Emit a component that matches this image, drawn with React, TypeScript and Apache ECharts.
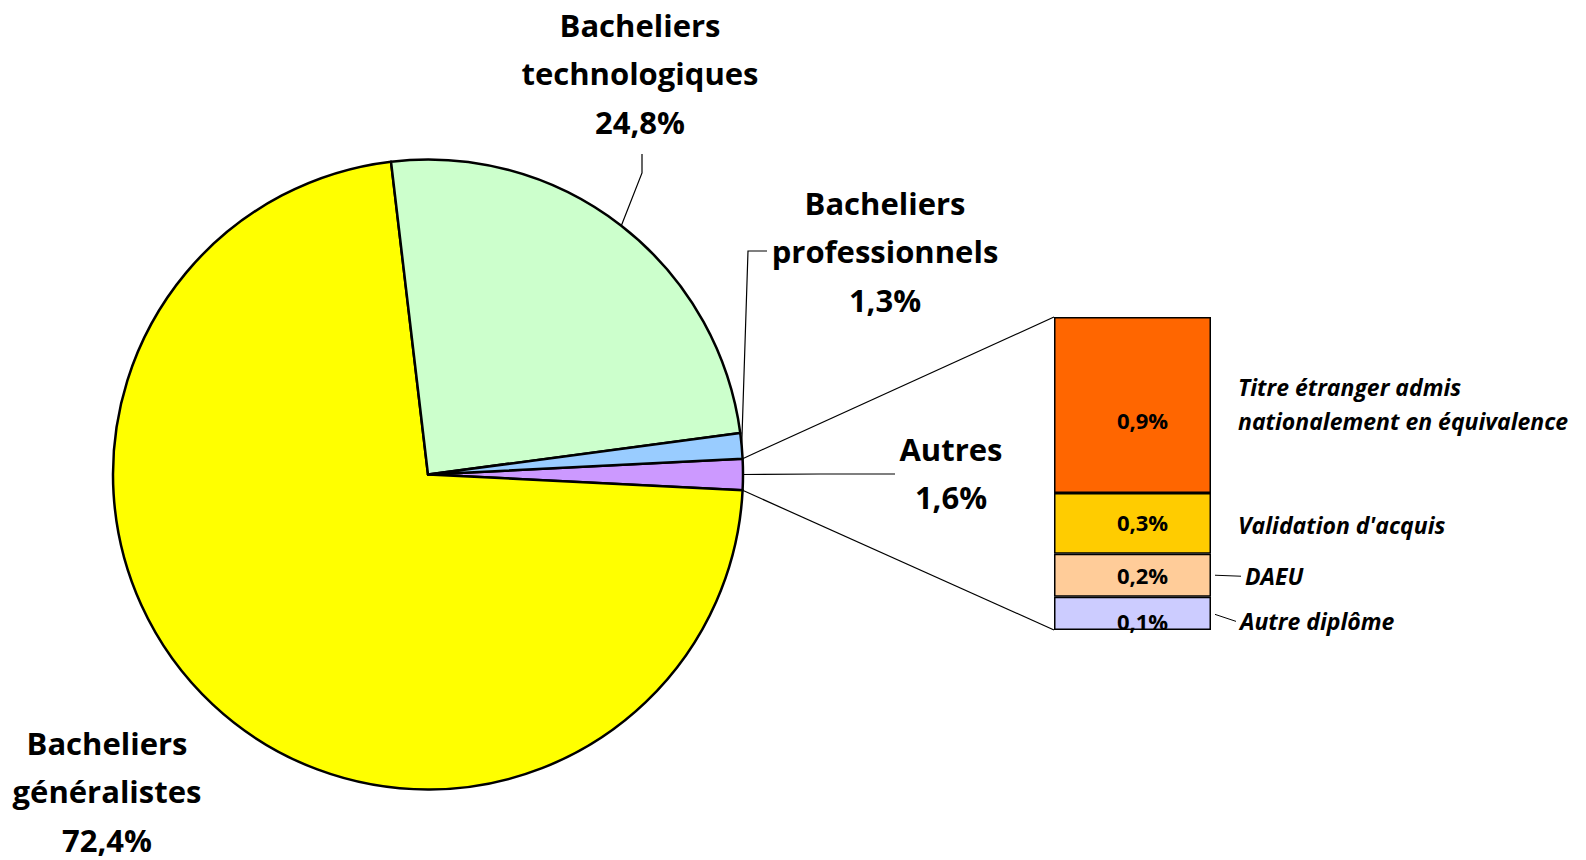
import React, { useEffect, useRef } from "react";
import * as echarts from "echarts";

// ---- data ----
const PIE_NAMES = ["Autres", "Bacheliers généralistes", "Bacheliers technologiques", "Bacheliers professionnels"];
const PIE_LABEL_NAMES = ["Autres", "Bacheliers\ngénéralistes", "Bacheliers\ntechnologiques", "Bacheliers\nprofessionnels"];
const PIE_VALUES = [1.6, 72.4, 24.8, 1.3];
const PIE_COLORS = ["#CC99FF", "#FFFF00", "#CCFFCC", "#99CCFF"];

// stacked bar, bottom to top
const BAR_NAMES = ["Autre diplôme", "DAEU", "Validation d'acquis", "Titre étranger admis\nnationalement en équivalence"];
const BAR_VALUES = [0.17, 0.22, 0.31, 0.9];
const BAR_LABELS = ["0,1%", "0,2%", "0,3%", "0,9%"];
const BAR_COLORS = ["#CCCCFF", "#FFCC99", "#FFCC00", "#FF6600"];

// ---- layout ----
const W = 1586;
const H = 860;
const PIE_CX = 428;
const PIE_CY = 474.5;
const PIE_R = 315;
const GRID = { left: 1054, top: 317, width: 157, height: 313 };
const FONT = "Open Sans";

const fmt = (v: number) => v.toFixed(1).replace(".", ",") + "%";

export default function App() {
  const ref = useRef<HTMLDivElement>(null);

  useEffect(() => {
    document.body.style.margin = "0";
    if (!ref.current) return;
    const chart = echarts.init(ref.current, undefined, { renderer: "svg" });

    const total = PIE_VALUES.reduce((a, b) => a + b, 0);
    const startAngle = (PIE_VALUES[0] / total) * 360 / 2;
    const barTotal = BAR_VALUES.reduce((a, b) => a + b, 0);

    const labelPlace: Record<number, any> = {
      0: { x: 951, y: 473, line: [[820, 474], [895, 474]] },
      1: { x: 107, y: 791, line: null },
      2: { x: 640, y: 73, line: [[642, 173], [642, 154]] },
      3: { x: 885, y: 251, line: [[748, 251], [767, 251]] },
    };

    const barLabelOffsets = [[10, 8], [10, 0], [10, -1], [10, 15]];

    chart.setOption({
      animation: false,
      backgroundColor: "#ffffff",
      grid: { ...GRID, containLabel: false },
      xAxis: { type: "category", data: [""], show: false, boundaryGap: true },
      yAxis: { type: "value", min: 0, max: barTotal, show: false },
      series: [
        {
          type: "pie",
          center: [PIE_CX, PIE_CY],
          radius: PIE_R,
          startAngle,
          clockwise: true,
          avoidLabelOverlap: false,
          data: PIE_VALUES.map((v, i) => ({
            name: PIE_NAMES[i],
            value: v,
            itemStyle: { color: PIE_COLORS[i] },
            labelLine: { show: i !== 1 },
          })),
          itemStyle: { borderColor: "#000", borderWidth: 2.5 },
          label: {
            show: true,
            position: "outside",
            formatter: (p: any) => PIE_LABEL_NAMES[p.dataIndex] + "\n" + fmt(p.value),
            fontFamily: FONT,
            fontWeight: "bold",
            fontSize: 31,
            lineHeight: 48.5,
            color: "#000",
            align: "center",
          },
          labelLine: { show: true, lineStyle: { color: "#000", width: 1.2 }, length: 10, length2: 10 },
          labelLayout: (params: any) => {
            const pl = labelPlace[params.dataIndex];
            const out: any = { x: pl.x, y: pl.y, align: "center", verticalAlign: "middle" };
            if (pl.line && params.labelLinePoints) {
              out.labelLinePoints = [params.labelLinePoints[0], ...pl.line];
            }
            return out;
          },
          emphasis: { disabled: true },
        },
        ...BAR_VALUES.map((v, i) => ({
          type: "bar",
          name: BAR_NAMES[i],
          stack: "autres",
          barWidth: "100%",
          data: [v],
          itemStyle: { color: BAR_COLORS[i], borderColor: "#000", borderWidth: 1.5 },
          label: {
            show: true,
            position: "inside",
            formatter: () => BAR_LABELS[i],
            offset: barLabelOffsets[i],
            fontFamily: FONT,
            fontWeight: "bold",
            fontSize: 22,
            color: "#000",
          },
          emphasis: { disabled: true },
        })),
      ],
    });

    // connectors & bar names
    const toRad = (d: number) => (d * Math.PI) / 180;
    const edge = (deg: number) => [PIE_CX + PIE_R * Math.cos(toRad(deg)), PIE_CY - PIE_R * Math.sin(toRad(deg))];
    const pTop = edge(startAngle);
    const pBot = edge(-startAngle);
    const barTopY = chart.convertToPixel({ gridIndex: 0 }, [0, barTotal])[1];
    const barBotY = chart.convertToPixel({ gridIndex: 0 }, [0, 0])[1];
    const left = GRID.left;
    const right = GRID.left + GRID.width;

    const nameOffsets = [8, 1, 2, -1];
    const leaders = [true, true, false, false];
    const graphics: any[] = [
      { type: "line", shape: { x1: pTop[0], y1: pTop[1], x2: left, y2: barTopY }, style: { stroke: "#000", lineWidth: 1.2 }, z: 10 },
      { type: "line", shape: { x1: pBot[0], y1: pBot[1], x2: left, y2: barBotY }, style: { stroke: "#000", lineWidth: 1.2 }, z: 10 },
    ];
    let cum = 0;
    BAR_VALUES.forEach((v, i) => {
      const yMid = chart.convertToPixel({ gridIndex: 0 }, [0, cum + v / 2])[1];
      cum += v;
      const ty = yMid + nameOffsets[i];
      const tx = i === 1 ? 1245 : i === 0 ? 1240 : 1238;
      graphics.push({
        type: "text",
        x: tx,
        y: ty,
        style: {
          text: BAR_NAMES[i],
          font: `italic bold 23px ${FONT}`,
          fill: "#000",
          textAlign: "left",
          textVerticalAlign: "middle",
          lineHeight: 34,
        },
        z: 10,
      });
      if (leaders[i]) {
        graphics.push({
          type: "line",
          shape: { x1: right + 4, y1: yMid + (i === 0 ? 1 : 0), x2: tx - 4, y2: ty },
          style: { stroke: "#000", lineWidth: 1 },
          z: 10,
        });
      }
    });
    chart.setOption({ graphic: graphics });

    return () => chart.dispose();
  }, []);

  return <div ref={ref} style={{ width: W, height: H }} />;
}
